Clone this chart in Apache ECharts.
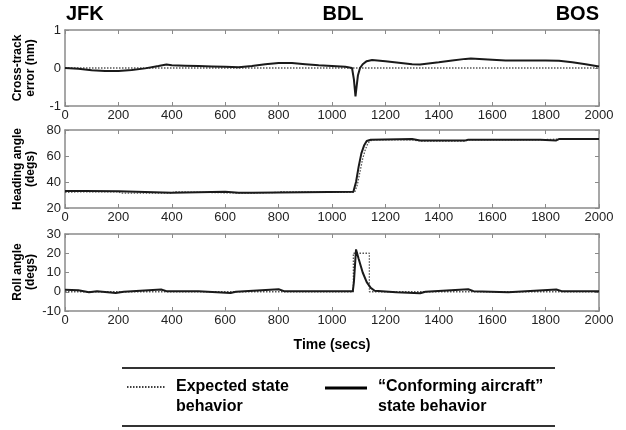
<!DOCTYPE html>
<html><head><meta charset="utf-8">
<script src="https://cdn.jsdelivr.net/npm/echarts@6/dist/echarts.min.js"></script>
<style>html,body{margin:0;padding:0;background:#fff}#c{width:626px;height:430px}</style>
</head><body><div id="c"></div>
<script>
// ---- data ----
const xTicks = [0,200,400,600,800,1000,1200,1400,1600,1800,2000];
const crossT = [0,50,100,150,200,250,300,350,380,400,450,500,550,600,650,700,750,800,850,900,950,1000,1050,1075,1082,1088,1092,1097,1105,1115,1130,1150,1200,1250,1300,1330,1400,1450,1500,1520,1600,1650,1700,1750,1800,1850,1900,1950,2000];
const crossActual = [0,-0.02,-0.06,-0.08,-0.08,-0.05,-0.01,0.05,0.09,0.07,0.06,0.05,0.04,0.03,0.02,0.05,0.1,0.13,0.13,0.1,0.07,0.05,0.03,0.0,-0.3,-0.75,-0.5,-0.2,0.0,0.1,0.18,0.21,0.18,0.14,0.1,0.09,0.15,0.2,0.24,0.25,0.22,0.2,0.2,0.2,0.2,0.19,0.15,0.1,0.04];
const crossExpT = [0,2000];
const crossExpected = [0,0];

const headT = [0,70,75,200,205,400,405,600,650,700,705,800,805,1080,1090,1100,1110,1120,1130,1145,1300,1330,1500,1510,1780,1785,1840,1850,2000];
const headActual = [33,33,32.8,32.8,31.8,31.8,32.5,32.5,31.8,31.8,32,32,32.5,32.5,40,52,62,68,71.5,72.5,73,72,72,72.5,72.5,72,72,73,73];
const headExpT = [0,60,200,210,400,410,650,700,800,810,1085,1095,1105,1115,1125,1135,1150,1300,1330,1500,1510,1780,1850,2000];
const headExpected = [32,32.5,32.5,31.5,31.5,32.5,31.5,31.5,32,32.5,32,38,48,58,65,70,72.5,72.5,71.5,71.5,72.5,72.5,73,73];

const rollT = [0,50,90,120,190,220,360,380,500,620,640,800,820,1000,1078,1082,1090,1100,1115,1130,1145,1160,1240,1330,1350,1510,1530,1660,1840,1860,2000];
const rollActual = [1,0.8,-0.3,0.3,-0.6,0,1.2,0.3,0.2,-0.6,0,1.3,0.3,0.2,0.3,5,22,17,10,5,2,0.5,-0.3,-0.8,0,1.3,0.3,-0.3,1.2,0.3,0.3];
const rollExpT = [0,1080,1080,1140,1140,2000];
const rollExpected = [0,0,20,20,0,0];

const panelNames = ['Cross-track\nerror (nm)','Heading angle\n(degs)','Roll angle\n(degs)'];
const yRanges = [[-1,1,1],[20,80,20],[-10,30,10]];
const airports = ['JFK','BDL','BOS'];
const xName = 'Time (secs)';
const legendNames = ['Expected state\nbehavior','\u201cConforming aircraft\u201d\nstate behavior'];

const zip = (a,b)=>a.map((v,i)=>[v,b[i]]);
// ---- layout ----
const grids = [{top:30,height:76},{top:130,height:78},{top:234,height:77}];
const axisCol = '#8a8a8a';
const fontF = '"Liberation Sans", Arial, sans-serif';
const plain = v=>String(v);
const xAxes=[], yAxes=[], series=[];
const line = {show:true,onZero:false,lineStyle:{color:axisCol,width:1.5}};
const tick = {show:true,inside:true,length:4,lineStyle:{color:axisCol}};
grids.forEach((g,i)=>{
  xAxes.push({type:'value',gridIndex:i,min:0,max:2000,interval:200,position:'bottom',
    axisLine:line,axisTick:tick,
    axisLabel:{margin:3,fontSize:13,color:'#222',fontFamily:fontF,formatter:plain},
    splitLine:{show:false}});
  xAxes.push({type:'value',gridIndex:i,min:0,max:2000,interval:200,position:'top',
    axisLine:line,axisTick:tick,axisLabel:{show:false},splitLine:{show:false}});
  const r=yRanges[i];
  yAxes.push({type:'value',gridIndex:i,min:r[0],max:r[1],interval:r[2],position:'left',
    axisLine:line,axisTick:tick,
    axisLabel:{margin:4,fontSize:13,color:'#222',fontFamily:fontF,formatter:plain},
    splitLine:{show:false}});
  yAxes.push({type:'value',gridIndex:i,min:r[0],max:r[1],interval:r[2],position:'right',
    axisLine:line,axisTick:tick,axisLabel:{show:false},splitLine:{show:false}});
});
const exp = [zip(crossExpT,crossExpected),zip(headExpT,headExpected),zip(rollExpT,rollExpected)];
const act = [zip(crossT,crossActual),zip(headT,headActual),zip(rollT,rollActual)];
for(let i=0;i<3;i++){
  series.push({type:'line',xAxisIndex:2*i,yAxisIndex:2*i,data:exp[i],showSymbol:false,silent:true,z:3,
    lineStyle:{color:'#555',width:1.3,type:[1.5,1.5]}});
  series.push({type:'line',xAxisIndex:2*i,yAxisIndex:2*i,data:act[i],showSymbol:false,silent:true,z:4,
    lineStyle:{color:'#1a1a1a',width:2}});
}
const graphic = [];
const bold = (t,x,y,size,align,rot)=>({type:'text',x:x,y:y,rotation:rot||0,z:10,
  style:{text:t,fill:'#000',font:'bold '+size+'px '+fontF,textAlign:align||'left',textVerticalAlign:'middle',lineHeight:size+1}});
graphic.push(bold(airports[0],66,14,20,'left'));
graphic.push(bold(airports[1],343,14,20,'center'));
graphic.push(bold(airports[2],599,14,20,'right'));
const yc=[68,169,272];
panelNames.forEach((n,i)=>graphic.push(bold(n,24,yc[i],12,'center',Math.PI/2)));
graphic.push(bold(xName,332,345,14,'center'));
// legend box
graphic.push({type:'line',shape:{x1:122,y1:368,x2:555,y2:368},style:{stroke:'#333',lineWidth:2}});
graphic.push({type:'line',shape:{x1:122,y1:426,x2:555,y2:426},style:{stroke:'#333',lineWidth:2}});
graphic.push({type:'line',shape:{x1:127,y1:387,x2:166,y2:387},style:{stroke:'#000',lineWidth:1.5,lineDash:[1.5,1.5]}});
graphic.push({type:'line',shape:{x1:325,y1:388,x2:367,y2:388},style:{stroke:'#000',lineWidth:3}});
graphic.push({type:'text',x:176,y:397,style:{text:legendNames[0],fill:'#000',font:'bold 16px '+fontF,textAlign:'left',textVerticalAlign:'middle',lineHeight:20}});
graphic.push({type:'text',x:378,y:397,style:{text:legendNames[1],fill:'#000',font:'bold 16px '+fontF,textAlign:'left',textVerticalAlign:'middle',lineHeight:20}});

const chart = echarts.init(document.getElementById('c'),null,{renderer:'canvas'});
chart.setOption({animation:false,backgroundColor:'#fff',
  grid:grids.map(g=>({left:65,right:27,top:g.top,height:g.height})),
  xAxis:xAxes,yAxis:yAxes,series:series,graphic:graphic});
</script></body></html>
